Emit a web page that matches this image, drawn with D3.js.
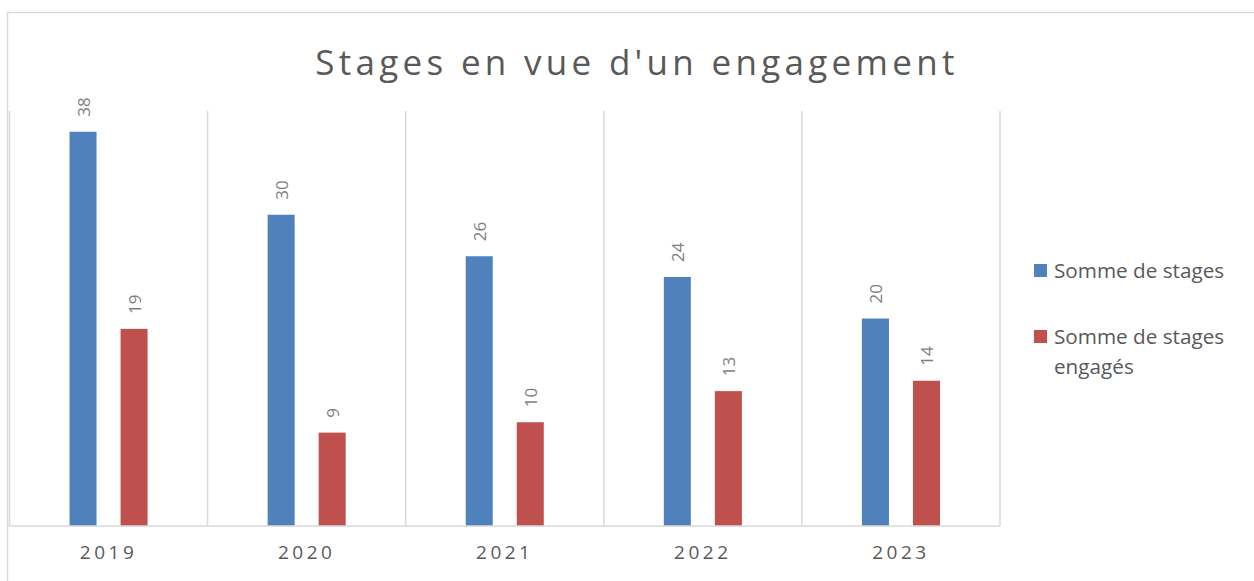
<!DOCTYPE html>
<html><head><meta charset="utf-8">
<script src="https://cdn.jsdelivr.net/npm/d3@7"></script>
<style>html,body{margin:0;padding:0;background:#fff;overflow:hidden}</style>
</head><body>
<svg id="c" width="1254" height="581"></svg>
<script>
const years = ["2019","2020","2021","2022","2023"];
const seriesNames = ["Somme de stages","Somme de stages engagés"];
const stages = [38,30,26,24,20];
const stagesEngages = [19,9,10,13,14];
const colors = ["#4F81BD","#C0504D"];
const titleText = "Stages en vue d'un engagement";

const svg = d3.select("#c");
const font = "'Open Sans', sans-serif";
const grid = "#d9d9d9";

// outer chart border
svg.append("rect").attr("x",7.5).attr("y",12.5).attr("width",1300).attr("height",700)
  .attr("fill","none").attr("stroke",grid).attr("stroke-width",1.5);

const plot = {l:9.5, r:1000, t:111, b:526};
const x0 = d3.scaleBand().domain(years).range([plot.l, plot.r]).padding(0);
const x1 = d3.scaleBand().domain(seriesNames).range([0, x0.bandwidth()])
  .paddingInner(0.4706).paddingOuter(1.176);
const y = d3.scaleLinear().domain([0,40]).range([plot.b, plot.t]);

// vertical gridlines at category boundaries
const bounds = years.map(d => x0(d)).concat([plot.r]);
svg.append("g").selectAll("line").data(bounds).join("line")
  .attr("x1",d=>d).attr("x2",d=>d).attr("y1",plot.t).attr("y2",plot.b)
  .attr("stroke",grid).attr("stroke-width",1.5);

const data = years.map((yr,i)=>({year:yr, vals:[stages[i], stagesEngages[i]]}));

const groups = svg.append("g").selectAll("g").data(data).join("g")
  .attr("transform",d=>`translate(${x0(d.year)},0)`);
groups.selectAll("rect").data(d=>d.vals.map((v,j)=>({name:seriesNames[j],v,j}))).join("rect")
  .attr("x",d=>x1(d.name)).attr("width",x1.bandwidth())
  .attr("y",d=>y(d.v)).attr("height",d=>y(0)-y(d.v))
  .attr("fill",d=>colors[d.j]);
groups.selectAll("text").data(d=>d.vals.map((v,j)=>({name:seriesNames[j],v,j}))).join("text")
  .attr("transform",d=>`translate(${x1(d.name)+x1.bandwidth()/2},${y(d.v)-15}) rotate(-90)`)
  .attr("text-anchor","start").attr("dominant-baseline","central")
  .attr("font-family",font).attr("font-size",17).attr("fill","#7f7f7f")
  .text(d=>d.v);

// x axis
const xAxis = svg.append("g").attr("transform",`translate(0,${plot.b})`)
  .call(d3.axisBottom(x0).tickSize(0).tickPadding(20));
xAxis.select(".domain").attr("stroke",grid).attr("stroke-width",1.5)
  .attr("d",`M${plot.l-1},0H${plot.r}`);
xAxis.selectAll("text").attr("font-family",font).attr("font-size",19)
  .attr("fill","#595959").attr("letter-spacing","3.5px").attr("dy","0.71em");

// title
svg.append("text").attr("x",637).attr("y",61).attr("text-anchor","middle")
  .attr("dominant-baseline","central")
  .attr("font-family",font).attr("font-size",35).attr("fill","#595959")
  .attr("letter-spacing","4.3px").text(titleText);

// legend
const leg = svg.append("g");
const legY = [270, 336];
seriesNames.forEach((n,i)=>{
  leg.append("rect").attr("x",1034).attr("y",legY[i]-6).attr("width",13).attr("height",13).attr("fill",colors[i]);
  const words = i===0 ? [n] : ["Somme de stages","engagés"];
  const t = leg.append("text").attr("font-family",font).attr("font-size",20.7).attr("fill","#595959");
  words.forEach((w,k)=>t.append("tspan").attr("x",1054).attr("y",legY[i]+k*30).attr("dominant-baseline","central").text(w));
});
</script>
</body></html>
